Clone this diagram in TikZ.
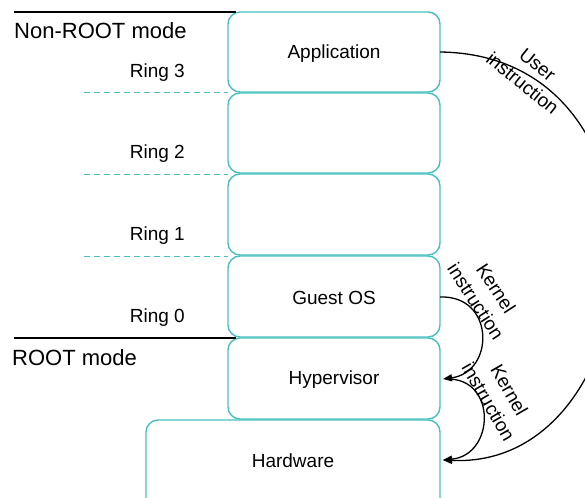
\documentclass[tikz,border=0pt]{standalone}
\usepackage{fontspec}
\setmainfont{Liberation Sans}
\usetikzlibrary{arrows.meta}
\definecolor{ringteal}{RGB}{72,192,190}
\begin{document}
\begin{tikzpicture}[x=1pt,y=-1pt,
  layer/.style={draw=ringteal,line width=1.4pt,rounded corners=12pt},
  boxtext/.style={font=\fontsize{19}{22}\selectfont},
  modetext/.style={font=\fontsize{22}{25}\selectfont,anchor=west,inner sep=0pt},
  ringtext/.style={font=\fontsize{19}{22}\selectfont,anchor=east,inner sep=0pt},
  ringline/.style={ringteal,line width=1pt,dash pattern=on 6pt off 4pt},
  modeline/.style={black,line width=1.2pt},
  flow/.style={black,line width=1.3pt,-{Triangle[length=9pt,width=7pt]}},
  flowtext/.style={font=\fontsize{19}{24}\selectfont,align=center,inner sep=0pt}]
\useasboundingbox (0,0) rectangle (585,497);
\clip (0,0) rectangle (585,497);

% privilege layers
\draw[layer] (228,12) rectangle (440,92);
\draw[layer] (228,93) rectangle (440,173);
\draw[layer] (228,174) rectangle (440,255);
\draw[layer] (228,256) rectangle (440,337);
\draw[layer] (228,338) rectangle (440,419);
\draw[layer] (146,420) rectangle (440,510);

\node[boxtext] (app) at (334,54) {Application};
\node[boxtext] (guest) at (334,298) {Guest OS};
\node[boxtext] (hyp) at (334,380) {Hypervisor};
\node[boxtext] (hw) at (293,461) {Hardware};

% anchor points on the right edges of the layers
\coordinate (appR) at (440,52);
\coordinate (guestR) at (440,297);
\coordinate (hypIn) at (443,379);
\coordinate (hypOut) at (447,379);
\coordinate (hwIn) at (443,460);

% mode boundaries and ring separators
\draw[modeline] (14,12) -- (236,12);
\draw[modeline] (14,338) -- (236,338);
\draw[ringline] (84,93) -- (228,93);
\draw[ringline] (84,174) -- (228,174);
\draw[ringline] (84,256) -- (228,256);

\node[modetext] (nonroot) at (14,31) {Non-ROOT mode};
\node[modetext] (root) at (12,358) {ROOT mode};
\node[ringtext] (r3) at (185,73) {Ring 3};
\node[ringtext] (r2) at (185,154) {Ring 2};
\node[ringtext] (r1) at (185,236) {Ring 1};
\node[ringtext] (r0) at (185,318) {Ring 0};

% instruction flows
\draw[flow] (appR) .. controls (690,55) and (655,470) .. (hwIn);
\draw[flow] (guestR) .. controls (495,295) and (495,372) .. (hypIn);
\draw[flow] (hypOut) .. controls (497,378) and (495,455) .. (hwIn);

\node[flowtext,rotate=-39] (ulbl) at (530,74) {User\\instruction};
\node[flowtext,rotate=-57] (k1lbl) at (486,295) {Kernel\\instruction};
\node[flowtext,rotate=-60] (k2lbl) at (499,396) {Kernel\\instruction};
\end{tikzpicture}
\end{document}
